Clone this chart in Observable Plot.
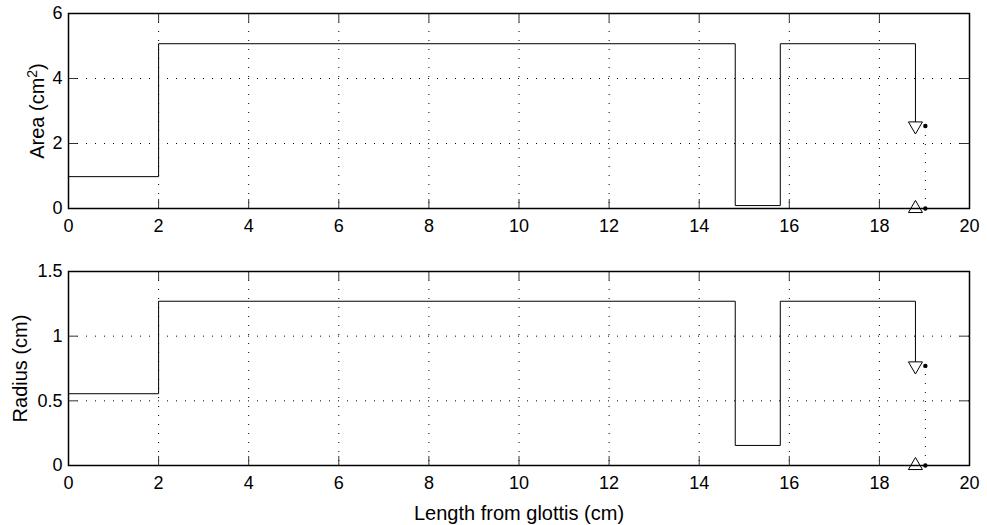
<!DOCTYPE html>
<html>
<head>
<meta charset="utf-8">
<script src="https://cdn.jsdelivr.net/npm/d3@7"></script>
<script src="https://cdn.jsdelivr.net/npm/@observablehq/plot@0.6"></script>
<style>
  body { margin: 0; background: #fff; }
  #chart svg { display: block; }
</style>
</head>
<body>
<div id="chart"></div>
<script>
// Vocal tract tube model: piecewise-constant sections from glottis to lips
const segmentStart = [0, 2, 14.8, 15.8];
const lipEnd = 18.8;
const areaValues = [0.98, 5.07, 0.09, 5.07];
const radiusValues = [0.555, 1.27, 0.155, 1.27];

// Radiation load termination
const radiationX = 19.02;
const areaRadiation = 2.54;
const radiusRadiation = 0.77;

// Axis ticks
const xTicks = [0, 2, 4, 6, 8, 10, 12, 14, 16, 18, 20];
const areaTicks = [0, 2, 4, 6];
const areaTickLabels = ["0", "2", "4", "6"];
const radiusTicks = [0, 0.5, 1, 1.5];
const radiusTickLabels = ["0", "0.5", "1", "1.5"];

const FONT = "Liberation Sans, Arial, Helvetica, sans-serif";
const FS = 18;      // tick labels
const FS_LABEL = 20; // axis titles
const WIDTH = 987, ML = 68, MR = 18;
const TICK = 9;

// Downward-pointing triangle symbol
const triangleDown = {
  draw(context, size) {
    const y = Math.sqrt(size / (Math.sqrt(3) * 3));
    context.moveTo(0, y * 2);
    context.lineTo(-Math.sqrt(3) * y, -y);
    context.lineTo(Math.sqrt(3) * y, -y);
    context.closePath();
  }
};

function panel({values, endValue, yTicks, yTickLabels, yMax, yLabel, height, marginTop, marginBottom, xLabel}) {
  const plotW = WIDTH - ML - MR;
  const plotH = height - marginTop - marginBottom;
  const pts = segmentStart.map((x, i) => ({x, y: values[i]}));
  pts.push({x: lipEnd, y: values[values.length - 1]});
  pts.push({x: lipEnd, y: endValue});
  const fmt = d => yTickLabels[yTicks.indexOf(d)];
  const marks = [
    Plot.gridX(xTicks, {stroke: "#000", strokeOpacity: 1, strokeWidth: 1, strokeDasharray: "1,8"}),
    Plot.gridY(yTicks, {stroke: "#000", strokeOpacity: 1, strokeWidth: 1, strokeDasharray: "1,8"}),
    Plot.ruleX([radiationX], {y1: 0, y2: endValue, stroke: "#000", strokeWidth: 1, strokeDasharray: "1,8"}),
    Plot.line(pts, {x: "x", y: "y", curve: "step-after", stroke: "#000", strokeWidth: 1}),
    Plot.dot([{x: lipEnd, y: endValue}], {x: "x", y: "y", symbol: triangleDown, r: 5.2, fill: "#fff", stroke: "#000", strokeWidth: 1}),
    Plot.dot([{x: lipEnd, y: 0}], {x: "x", y: "y", symbol: "triangle", r: 5.2, fill: "#fff", stroke: "#000", strokeWidth: 1}),
    Plot.dot([{x: radiationX, y: endValue}, {x: radiationX, y: 0}], {x: "x", y: "y", r: 2.2, fill: "#000", stroke: null}),
    // inward ticks on all four sides
    Plot.tickX(xTicks, {x: d => d, insetTop: plotH - TICK, stroke: "#333", strokeWidth: 1}),
    Plot.tickX(xTicks, {x: d => d, insetBottom: plotH - TICK, stroke: "#333", strokeWidth: 1}),
    Plot.tickY(yTicks, {y: d => d, insetRight: plotW - TICK, stroke: "#333", strokeWidth: 1}),
    Plot.tickY(yTicks, {y: d => d, insetLeft: plotW - TICK, stroke: "#333", strokeWidth: 1}),
    Plot.frame({stroke: "#000", strokeWidth: 1.5}),
    Plot.axisX(xTicks, {tickSize: 0, tickPadding: 11, fontSize: FS, label: null, tickFormat: d => String(d)}),
    Plot.axisY(yTicks, {tickSize: 0, tickPadding: 6, fontSize: FS, label: null, tickFormat: fmt}),
    Plot.text([yLabel.text], {frameAnchor: "left", dx: yLabel.dx, rotate: -90, fontSize: FS_LABEL, fill: "#000", lineAnchor: "middle", textAnchor: "middle"})
  ];
  if (xLabel) {
    marks.push(Plot.text([xLabel], {frameAnchor: "bottom", dy: 40, lineAnchor: "top", fontSize: FS_LABEL, fill: "#000"}));
  }
  return Plot.plot({
    width: WIDTH,
    height,
    marginLeft: ML,
    marginRight: MR,
    marginTop,
    marginBottom,
    style: {fontFamily: FONT, fontSize: FS + "px", color: "#000", background: "#fff"},
    x: {domain: [0, 20], label: null},
    y: {domain: [0, yMax], label: null},
    marks
  });
}

const areaChart = panel({
  values: areaValues, endValue: areaRadiation,
  yTicks: areaTicks, yTickLabels: areaTickLabels, yMax: 6,
  yLabel: {text: "Area (cm2)", dx: -31},
  height: 245, marginTop: 13, marginBottom: 37
});
const radiusChart = panel({
  values: radiusValues, endValue: radiusRadiation,
  yTicks: radiusTicks, yTickLabels: radiusTickLabels, yMax: 1.5,
  yLabel: {text: "Radius (cm)", dx: -48},
  height: 280, marginTop: 26, marginBottom: 60,
  xLabel: "Length from glottis (cm)"
});

// superscript for the area unit
areaChart.querySelectorAll("text").forEach(t => {
  if (t.textContent === "Area (cm2)") {
    t.textContent = "";
    const ns = "http://www.w3.org/2000/svg";
    const a = document.createElementNS(ns, "tspan"); a.textContent = "Area (cm";
    const s = document.createElementNS(ns, "tspan"); s.textContent = "2";
    s.setAttribute("dy", "-0.5em"); s.setAttribute("font-size", "14px");
    const b = document.createElementNS(ns, "tspan"); b.textContent = ")";
    b.setAttribute("dy", "0.35em");
    t.append(a, s, b);
  }
});

document.getElementById("chart").append(areaChart, radiusChart);
</script>
</body>
</html>
